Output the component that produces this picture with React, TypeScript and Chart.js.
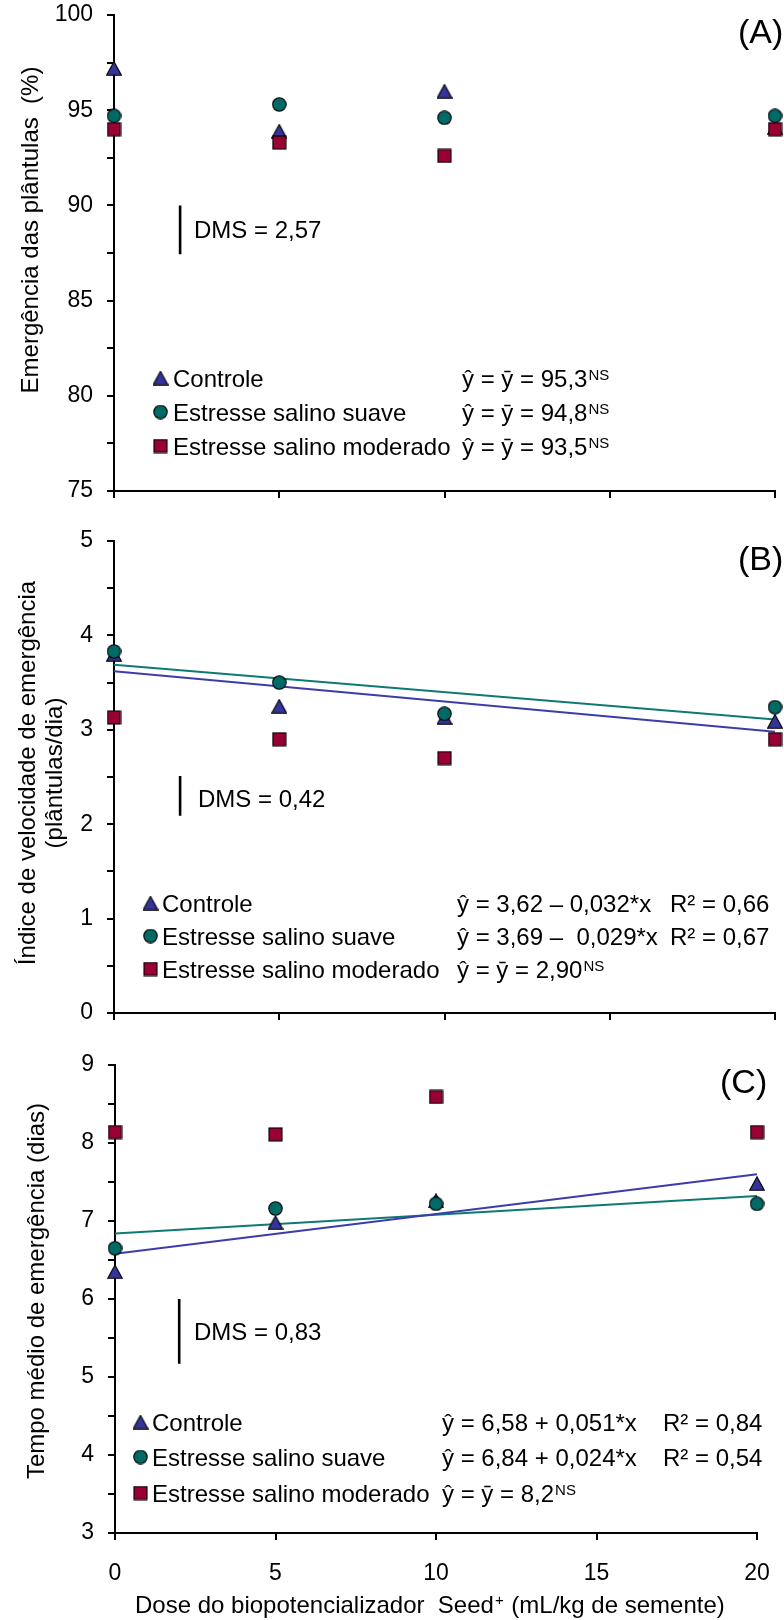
import React, { useEffect, useRef } from 'react';
import { Chart, registerables } from 'chart.js';

Chart.register(...registerables);

// ---------- data ----------
const doses = [0, 5, 10, 20];
const xTicks = [0, 5, 10, 15, 20];

const emergControle = [97.2, 93.9, 96.0, 94.1];
const emergSuave = [94.7, 95.3, 94.6, 94.7];
const emergModerado = [94.0, 93.3, 92.6, 94.0];

const ivcControle = [3.80, 3.25, 3.13, 3.09];
const ivcSuave = [3.83, 3.50, 3.17, 3.24];
const ivcModerado = [3.13, 2.90, 2.70, 2.90];

const tmeControle = [6.35, 6.98, 7.26, 7.48];
const tmeSuave = [6.65, 7.16, 7.22, 7.22];
const tmeModerado = [8.14, 8.11, 8.59, 8.14];

// regression coefficients [intercept, slope]
const ivcRegControle = [3.62, -0.032];
const ivcRegSuave = [3.69, -0.029];
const tmeRegControle = [6.58, 0.051];
const tmeRegSuave = [6.84, 0.024];

// DMS bars: value and top of bar, placed at dose 2
const dmsValues = [2.57, 0.42, 0.83];
const dmsTops = [90.0, 2.51, 6.0];
const dmsDose = 2;
const dmsLabels = ['DMS = 2,57', 'DMS = 0,42', 'DMS = 0,83'];

const seriesNames = ['Controle', 'Estresse salino suave', 'Estresse salino moderado'];

const eqA = [
  { main: 'ŷ = ȳ = 95,3', sup: 'NS' },
  { main: 'ŷ = ȳ = 94,8', sup: 'NS' },
  { main: 'ŷ = ȳ = 93,5', sup: 'NS' },
];
const eqB = [
  { main: 'ŷ = 3,62 – 0,032*x', r2: 'R² = 0,66' },
  { main: 'ŷ = 3,69 –  0,029*x', r2: 'R² = 0,67' },
  { main: 'ŷ = ȳ = 2,90', sup: 'NS' },
];
const eqC = [
  { main: 'ŷ = 6,58 + 0,051*x', r2: 'R² = 0,84' },
  { main: 'ŷ = 6,84 + 0,024*x', r2: 'R² = 0,54' },
  { main: 'ŷ = ȳ = 8,2', sup: 'NS' },
];

const titleA = ['Emergência das plântulas  (%)'];
const titleB = ['Índice de velocidade de emergência', '(plântulas/dia)'];
const titleC = ['Tempo médio de emergência (dias)'];
const xTitle = { pre: 'Dose do biopotencializador  Seed', sup: '+', post: ' (mL/kg de semente)' };

// ---------- styles ----------
const FONT = '"Liberation Sans", Arial, Helvetica, sans-serif';
const C_TRI = '#333399';
const C_CIR = '#006A66';
const C_SQ = '#990033';
const L_BLUE = '#3D3DAA';
const L_TEAL = '#0E7A72';

function makeMarker(kind: string): HTMLCanvasElement {
  const c = document.createElement('canvas');
  const ctx = c.getContext('2d')!;
  ctx.lineWidth = 1.1;
  ctx.strokeStyle = '#000';
  if (kind === 'tri') {
    c.width = 16; c.height = 15;
    ctx.lineWidth = 1.1;
    ctx.strokeStyle = '#000';
    ctx.fillStyle = C_TRI;
    ctx.beginPath();
    ctx.moveTo(8, 0.8);
    ctx.lineTo(15.3, 14.2);
    ctx.lineTo(0.7, 14.2);
    ctx.closePath();
    ctx.fill(); ctx.stroke();
  } else if (kind === 'cir') {
    c.width = 15; c.height = 15;
    ctx.lineWidth = 1.1;
    ctx.strokeStyle = '#000';
    ctx.fillStyle = C_CIR;
    ctx.beginPath();
    ctx.arc(7.5, 7.5, 6.7, 0, Math.PI * 2);
    ctx.fill(); ctx.stroke();
  } else {
    c.width = 15; c.height = 15;
    ctx.lineWidth = 1.1;
    ctx.strokeStyle = '#000';
    ctx.fillStyle = C_SQ;
    ctx.fillRect(1, 1, 13, 13);
    ctx.strokeRect(1, 1, 13, 13);
  }
  return c;
}

type Panel = {
  top: number; height: number;
  left: number; right: number; areaTop: number; areaBottom: number;
  yMin: number; yMax: number; yStep: number; yMajor: number;
  series: number[][];
  regs: number[][];
  dmsIndex: number;
  title: string[]; titleX: number[]; titleY: number;
  legend: { markerX: number; textX: number; eqX: number; r2X: number; rows: number[] };
  eqs: { main: string; sup?: string; r2?: string }[];
  label: string; labelX: number; labelY: number;
  dmsTextX: number; dmsTextY: number;
  showX: boolean;
};

const panels: Panel[] = [
  {
    top: 0, height: 520, left: 114, right: 775, areaTop: 15, areaBottom: 491,
    yMin: 75, yMax: 100, yStep: 2.5, yMajor: 5,
    series: [emergControle, emergSuave, emergModerado], regs: [], dmsIndex: 0,
    title: titleA, titleX: [38], titleY: 230,
    legend: { markerX: 160.5, textX: 173, eqX: 462, r2X: 0, rows: [378, 412, 446] },
    eqs: eqA, label: '(A)', labelX: 738, labelY: 43,
    dmsTextX: 194, dmsTextY: 238, showX: false,
  },
  {
    top: 520, height: 520, left: 114, right: 775, areaTop: 541, areaBottom: 1013,
    yMin: 0, yMax: 5, yStep: 0.5, yMajor: 1,
    series: [ivcControle, ivcSuave, ivcModerado], regs: [ivcRegControle, ivcRegSuave], dmsIndex: 1,
    title: titleB, titleX: [35, 62], titleY: 773,
    legend: { markerX: 150.5, textX: 162, eqX: 457, r2X: 670, rows: [903, 936, 969] },
    eqs: eqB, label: '(B)', labelX: 738, labelY: 570,
    dmsTextX: 198, dmsTextY: 807, showX: false,
  },
  {
    top: 1040, height: 580, left: 115, right: 757, areaTop: 1065, areaBottom: 1533,
    yMin: 3, yMax: 9, yStep: 0.5, yMajor: 1,
    series: [tmeControle, tmeSuave, tmeModerado], regs: [tmeRegControle, tmeRegSuave], dmsIndex: 2,
    title: titleC, titleX: [44], titleY: 1291,
    legend: { markerX: 140.5, textX: 152, eqX: 442, r2X: 663, rows: [1422, 1457, 1493] },
    eqs: eqC, label: '(C)', labelX: 720, labelY: 1093,
    dmsTextX: 194, dmsTextY: 1340, showX: true,
  },
];

function PanelChart({ p }: { p: Panel }) {
  const ref = useRef<HTMLCanvasElement | null>(null);
  useEffect(() => {
    const canvas = ref.current!;
    const markers = [makeMarker('tri'), makeMarker('cir'), makeMarker('sq')];
    const regColors = [L_BLUE, L_TEAL];
    const datasets: any[] = [];
    const orders = [3, 2, 1];
    p.series.forEach((vals, si) => {
      datasets.push({
        label: seriesNames[si],
        data: doses.map((x, i) => ({ x, y: vals[i] })),
        pointStyle: markers[si],
        pointRadius: 7,
        pointHoverRadius: 7,
        showLine: false,
        order: orders[si],
        clip: false,
      });
    });
    p.regs.forEach((coef, ri) => {
      const x0 = doses[0];
      const x1 = doses[doses.length - 1];
      datasets.push({
        label: 'reg' + ri,
        data: [{ x: x0, y: coef[0] + coef[1] * x0 }, { x: x1, y: coef[0] + coef[1] * x1 }],
        showLine: true,
        borderColor: regColors[ri],
        borderWidth: 2,
        pointRadius: 0,
        order: 4,
        clip: false,
      });
    });
    const dv = dmsValues[p.dmsIndex];
    const dt = dmsTops[p.dmsIndex];
    datasets.push({
      label: 'dms',
      data: [{ x: dmsDose, y: dt }, { x: dmsDose, y: dt - dv }],
      showLine: true,
      borderColor: '#000',
      borderWidth: 2.6,
      pointRadius: 0,
      order: 5,
      clip: false,
    });

    const off = p.top;
    const extras = {
      id: 'extras',
      afterDraw(chart: any) {
        const ctx: CanvasRenderingContext2D = chart.ctx;
        ctx.save();
        ctx.fillStyle = '#000';
        ctx.textBaseline = 'alphabetic';
        // y title
        ctx.font = `24px ${FONT}`;
        p.title.forEach((t, i) => {
          ctx.save();
          ctx.translate(p.titleX[i], p.titleY - off);
          ctx.rotate(-Math.PI / 2);
          ctx.textAlign = 'center';
          ctx.fillText(t, 0, 0);
          ctx.restore();
        });
        // legend
        ctx.textAlign = 'left';
        p.legend.rows.forEach((ry, i) => {
          const m = markers[i];
          const cy = ry - off;
          ctx.drawImage(m, p.legend.markerX - m.width / 2, cy - m.height / 2);
          ctx.font = `24px ${FONT}`;
          ctx.fillText(seriesNames[i], p.legend.textX, cy + 8.5);
          const eq = p.eqs[i];
          ctx.fillText(eq.main, p.legend.eqX, cy + 8.5);
          if (eq.sup) {
            const w = ctx.measureText(eq.main).width;
            ctx.font = `15px ${FONT}`;
            ctx.fillText(eq.sup, p.legend.eqX + w + 1, cy + 2);
            ctx.font = `24px ${FONT}`;
          }
          if (eq.r2) {
            ctx.fillText(eq.r2, p.legend.r2X, cy + 8.5);
          }
        });
        // DMS text
        ctx.font = `24px ${FONT}`;
        ctx.fillText(dmsLabels[p.dmsIndex], p.dmsTextX, p.dmsTextY - off);
        // panel label
        ctx.font = `34px ${FONT}`;
        ctx.fillText(p.label, p.labelX, p.labelY - off);
        // x title
        if (p.showX) {
          ctx.font = `24px ${FONT}`;
          const bx = 135;
          const by = 1613 - off;
          ctx.fillText(xTitle.pre, bx, by);
          const w = ctx.measureText(xTitle.pre).width;
          ctx.font = `15px ${FONT}`;
          ctx.fillText(xTitle.sup, bx + w + 1, by - 8);
          const ws = ctx.measureText(xTitle.sup).width;
          ctx.font = `24px ${FONT}`;
          ctx.fillText(xTitle.post, bx + w + ws + 2, by);
        }
        ctx.restore();
      },
    };

    const yWidth = p.left;
    const xHeight = p.top + p.height - p.areaBottom;
    const chart = new Chart(canvas, {
      type: 'scatter',
      data: { datasets },
      options: {
        animation: false,
        responsive: false,
        devicePixelRatio: 1,
        events: [],
        layout: { padding: { left: 0, top: p.areaTop - p.top, right: 784 - p.right, bottom: 0 } },
        plugins: { legend: { display: false }, tooltip: { enabled: false } },
        scales: {
          x: {
            type: 'linear',
            min: xTicks[0],
            max: xTicks[xTicks.length - 1],
            afterBuildTicks: (s: any) => { s.ticks = xTicks.map((v) => ({ value: v })); },
            afterFit: (s: any) => {
              s.height = xHeight;
              s.paddingLeft = 0; s.paddingRight = 0; s.paddingTop = 0; s.paddingBottom = 0;
            },
            ticks: {
              callback: (v: any) => (p.showX ? String(v) : ''),
              font: { family: FONT, size: 23 },
              color: '#000',
              padding: 20,
              maxRotation: 0,
            },
            grid: { display: true, drawOnChartArea: false, drawTicks: true, tickLength: 7, color: '#000', lineWidth: 2 },
            border: { display: true, color: '#000', width: 2 },
          },
          y: {
            type: 'linear',
            min: p.yMin,
            max: p.yMax,
            ticks: {
              stepSize: p.yStep,
              callback: (v: any) => {
                const q = v / p.yMajor;
                return Math.abs(q - Math.round(q)) < 1e-6 ? String(v) : '';
              },
              font: { family: FONT, size: 23 },
              color: '#000',
              padding: 14,
            },
            afterFit: (s: any) => {
              s.width = yWidth;
              s.paddingLeft = 0; s.paddingRight = 0; s.paddingTop = 0; s.paddingBottom = 0;
            },
            grid: { display: true, drawOnChartArea: false, drawTicks: true, tickLength: 7, color: '#000', lineWidth: 2 },
            border: { display: true, color: '#000', width: 2 },
          },
        },
      },
      plugins: [extras],
    } as any);
    return () => chart.destroy();
  }, [p]);
  return (
    <canvas
      ref={ref}
      width={784}
      height={p.height}
      style={{ position: 'absolute', left: 0, top: p.top, width: 784, height: p.height, display: 'block' }}
    />
  );
}

export default function App() {
  return (
    <div style={{ position: 'absolute', left: 0, top: 0, width: 784, height: 1620, background: '#fff', overflow: 'hidden' }}>
      {panels.map((p, i) => (
        <PanelChart key={i} p={p} />
      ))}
    </div>
  );
}
